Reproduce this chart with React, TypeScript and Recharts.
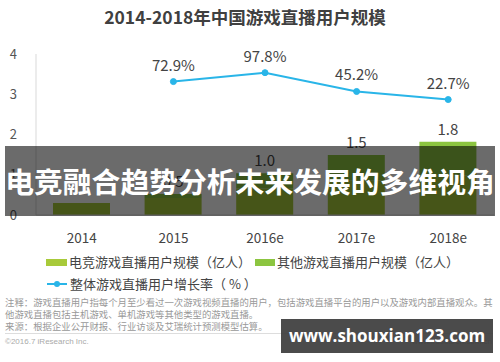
import { ComposedChart, Bar, Line, XAxis, YAxis, LabelList } from "recharts";

const years = ["2014", "2015", "2016e", "2017e", "2018e"];
const esportsUsers = [0.3, 0.42, 0.66, 0.86, 0.98];
const otherUsers = [0, 0.1, 0.38, 0.63, 0.84];
const totalLabels = ["0.3", "0.5", "1.0", "1.5", "1.8"];
const growthRate = [null, 72.9, 97.8, 45.2, 22.7];
const leftTicks = [0, 1, 2, 3, 4];

const ESPORTS = "#a8ca3a";
const OTHER = "#8cc540";
const LINE = "#29b5e8";
const FONT = '"Noto Sans CJK SC", "Noto Sans", sans-serif';

const rows = years.map((y, i) => ({
  year: y,
  esports: esportsUsers[i],
  other: otherUsers[i],
  total: totalLabels[i],
  growth: growthRate[i],
}));

export default function App() {
  return (
    <div style={{ position: "relative", width: 500, height: 362, background: "#fff", fontFamily: FONT, overflow: "hidden" }}>
      <style>{"body{margin:0}"}</style>
      <div style={{ position: "absolute", top: 5, left: 0, width: 490, textAlign: "center", fontSize: 17.5, fontWeight: 700, color: "#404040", lineHeight: "24px" }}>
        2014-2018年中国游戏直播用户规模
      </div>
      <div style={{ position: "absolute", top: 0, left: 0 }}>
        <ComposedChart width={500} height={250} data={rows} margin={{ top: 54, right: 6, bottom: 5, left: 0 }} barSize={57}>
          <XAxis
            dataKey="year"
            height={30}
            axisLine={{ stroke: "#d9d9d9" }}
            tickLine={false}
            tick={{ fill: "#444", fontSize: 13.5, fontFamily: FONT }}
            tickMargin={12}
          />
          <YAxis
            yAxisId="left"
            width={36}
            domain={[0, 4]}
            ticks={leftTicks}
            axisLine={{ stroke: "#d9d9d9" }}
            tickLine={false}
            tickSize={0}
            tickMargin={19}
            tick={{ fill: "#555", fontSize: 13, fontFamily: FONT }}
          />
          <YAxis yAxisId="right" orientation="right" hide domain={[-300, 150]} />
          <Bar yAxisId="left" dataKey="esports" stackId="u" fill={ESPORTS} isAnimationActive={false} />
          <Bar yAxisId="left" dataKey="other" stackId="u" fill={OTHER} isAnimationActive={false}>
            <LabelList dataKey="total" position="top" offset={7} fill="#444" fontSize={15} fontFamily={FONT} />
          </Bar>
          <Line
            yAxisId="right"
            dataKey="growth"
            stroke={LINE}
            strokeWidth={2}
            dot={{ r: 3, fill: LINE, stroke: LINE, strokeWidth: 1 }}
            connectNulls
            isAnimationActive={false}
          >
            <LabelList dataKey="growth" position="top" offset={11} fill="#444" fontSize={15} fontFamily={FONT} formatter={(v: number) => (v == null ? "" : `${v}%`)} />
          </Line>
        </ComposedChart>
      </div>

      {/* legend */}
      <div style={{ position: "absolute", top: 252, left: 46, fontSize: 13, color: "#444", lineHeight: "18px", whiteSpace: "nowrap" }}>
        <span style={{ display: "inline-block", width: 21, height: 7, background: ESPORTS, verticalAlign: "middle", marginRight: 2 }} />
        <span style={{ verticalAlign: "middle" }}>电竞游戏直播用户规模（亿人）</span>
        <span style={{ display: "inline-block", width: 20, height: 7, background: OTHER, verticalAlign: "middle", marginLeft: 4, marginRight: 2 }} />
        <span style={{ verticalAlign: "middle" }}>其他游戏直播用户规模（亿人）</span>
      </div>
      <div style={{ position: "absolute", top: 274, left: 46, fontSize: 13, color: "#444", lineHeight: "18px", whiteSpace: "nowrap" }}>
        <svg width={22} height={10} style={{ verticalAlign: "middle", marginRight: 2 }}>
          <line x1={1} y1={5} x2={21} y2={5} stroke={LINE} strokeWidth={2} />
          <circle cx={11} cy={5} r={3} fill={LINE} />
        </svg>
        <span style={{ verticalAlign: "middle" }}>整体游戏直播用户增长率（ % ）</span>
      </div>

      {/* notes */}
      <div style={{ position: "absolute", top: 296, left: 5, width: 492, fontSize: 9.4, color: "#999", lineHeight: "12px" }}>
        <div style={{ whiteSpace: "nowrap" }}>注释：游戏直播用户指每个月至少看过一次游戏视频直播的用户，包括游戏直播平台的用户以及游戏内部直播观众。其</div>
        <div style={{ whiteSpace: "nowrap" }}>他游戏直播包括主机游戏、单机游戏等其他类型的游戏直播。</div>
        <div style={{ whiteSpace: "nowrap" }}>来源：根据企业公开财报、行业访谈及艾瑞统计预测模型估算。</div>
      </div>
      <div style={{ position: "absolute", top: 333, left: 5, width: 488, height: 1, background: "#ddd" }} />
      <div style={{ position: "absolute", top: 337, left: 5, fontSize: 8, color: "#aaa", fontFamily: "Arial, Liberation Sans, sans-serif" }}>©2016.7 iResearch Inc.</div>
      <div style={{ position: "absolute", top: 337, right: 8, fontSize: 8, color: "#aaa", fontFamily: "Arial, Liberation Sans, sans-serif" }}>www.iresearch.com.cn</div>

      {/* overlay banner */}
      <div style={{ position: "absolute", top: 146, left: 5, width: 490, height: 70, background: "rgba(0,0,0,0.58)" }} />
      <div style={{ position: "absolute", top: 162, left: 0, width: 500, textAlign: "center", fontSize: 28.8, fontWeight: 700, color: "#fff", lineHeight: "38px", whiteSpace: "nowrap" }}>
        电竞融合趋势分析未来发展的多维视角
      </div>

      {/* watermark */}
      <div style={{ position: "absolute", top: 319, left: 281, width: 212, height: 34, background: "rgba(60,60,60,0.92)", color: "#fff", fontSize: 17, fontWeight: 700, textAlign: "center", lineHeight: "34px", fontFamily: '"Open Sans", "DejaVu Sans", sans-serif' }}>
        www.shouxian123.com
      </div>
    </div>
  );
}
